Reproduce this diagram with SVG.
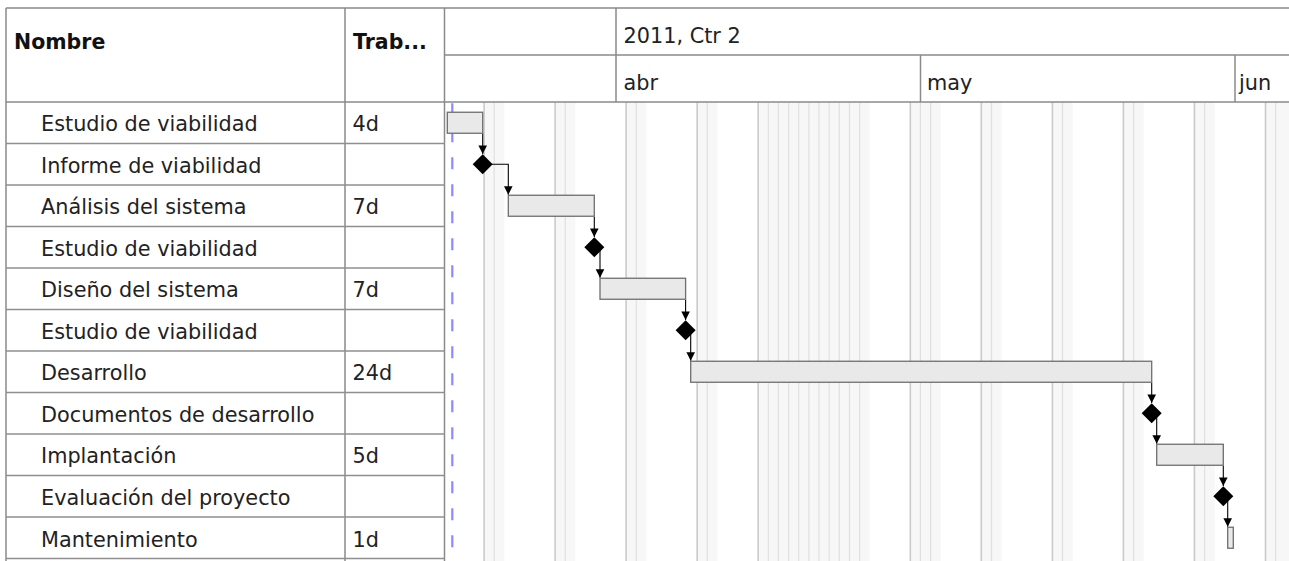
<svg xmlns="http://www.w3.org/2000/svg" width="1289" height="561" viewBox="0 0 1289 561">
<style>
.t{font-family:"DejaVu Sans","Liberation Sans",sans-serif;font-size:20.8px;fill:#222}
.h{font-weight:bold;fill:#111;font-size:20.5px}
.grid{stroke:#8a8a8a;stroke-width:1.5;fill:none}
.rowl{stroke:#8f8f8f;stroke-width:1.3}
.band{fill:#f7f7f7}
.nwd{stroke:#cacaca;stroke-width:1.6}
.nwl{stroke:#e0e0e0;stroke-width:1.2}
.bar{fill:#e9e9e9;stroke:#6e6e6e;stroke-width:1.3}
.ms{fill:#000}
.con{stroke:#000;stroke-width:1.1;fill:none;marker-end:url(#ah)}
</style>
<defs>
<marker id="ah" markerUnits="userSpaceOnUse" markerWidth="10" markerHeight="10" viewBox="0 -5 10 10" refX="8.5" refY="0" orient="auto">
<path d="M0,-4.3 L8.5,0 L0,4.3 z" fill="#000"/>
</marker>
</defs>
<rect x="0" y="0" width="1289" height="561" fill="#fff"/>

<!-- non-working day bands -->
<g id="calendar">
<rect class="band" x="484.1" y="102" width="20.3" height="459"/>
<rect class="band" x="555.1" y="102" width="20.3" height="459"/>
<rect class="band" x="626.1" y="102" width="20.3" height="459"/>
<rect class="band" x="697.2" y="102" width="20.3" height="459"/>
<rect class="band" x="758.1" y="102" width="111.6" height="459"/>
<rect class="band" x="910.3" y="102" width="30.4" height="459"/>
<rect class="band" x="981.3" y="102" width="20.3" height="459"/>
<rect class="band" x="1052.4" y="102" width="20.3" height="459"/>
<rect class="band" x="1123.4" y="102" width="20.3" height="459"/>
<rect class="band" x="1194.4" y="102" width="20.3" height="459"/>
<rect class="band" x="1265.5" y="102" width="23.5" height="459"/>
<g class="nwd">
<line x1="484.1" y1="102" x2="484.1" y2="561"/>
<line x1="555.1" y1="102" x2="555.1" y2="561"/>
<line x1="626.1" y1="102" x2="626.1" y2="561"/>
<line x1="697.2" y1="102" x2="697.2" y2="561"/>
<line x1="758.1" y1="102" x2="758.1" y2="561"/>
<line x1="910.3" y1="102" x2="910.3" y2="561"/>
<line x1="981.3" y1="102" x2="981.3" y2="561"/>
<line x1="1052.4" y1="102" x2="1052.4" y2="561"/>
<line x1="1123.4" y1="102" x2="1123.4" y2="561"/>
<line x1="1194.4" y1="102" x2="1194.4" y2="561"/>
<line x1="1265.5" y1="102" x2="1265.5" y2="561"/>
</g>
<g class="nwl">
<line x1="494.2" y1="102" x2="494.2" y2="561"/>
<line x1="565.3" y1="102" x2="565.3" y2="561"/>
<line x1="636.3" y1="102" x2="636.3" y2="561"/>
<line x1="707.3" y1="102" x2="707.3" y2="561"/>
<line x1="768.3" y1="102" x2="768.3" y2="561"/>
<line x1="778.4" y1="102" x2="778.4" y2="561"/>
<line x1="788.6" y1="102" x2="788.6" y2="561"/>
<line x1="798.7" y1="102" x2="798.7" y2="561"/>
<line x1="808.9" y1="102" x2="808.9" y2="561"/>
<line x1="819.0" y1="102" x2="819.0" y2="561"/>
<line x1="829.2" y1="102" x2="829.2" y2="561"/>
<line x1="839.3" y1="102" x2="839.3" y2="561"/>
<line x1="849.5" y1="102" x2="849.5" y2="561"/>
<line x1="859.6" y1="102" x2="859.6" y2="561"/>
<line x1="920.4" y1="102" x2="920.4" y2="561"/>
<line x1="930.6" y1="102" x2="930.6" y2="561"/>
<line x1="991.5" y1="102" x2="991.5" y2="561"/>
<line x1="1062.5" y1="102" x2="1062.5" y2="561"/>
<line x1="1133.6" y1="102" x2="1133.6" y2="561"/>
<line x1="1204.6" y1="102" x2="1204.6" y2="561"/>
<line x1="1275.6" y1="102" x2="1275.6" y2="561"/>
</g>
</g>

<!-- today line -->
<line id="today" x1="452.3" y1="103.3" x2="452.3" y2="561" stroke="#8b8bff" stroke-width="2.2" stroke-dasharray="12 15"/>

<!-- table and header grid -->
<g id="grid">
<line class="grid" x1="6" y1="8" x2="1289" y2="8"/>
<line class="grid" x1="6" y1="102" x2="1289" y2="102"/>
<line class="grid" x1="444.5" y1="55" x2="1289" y2="55"/>
<line class="grid" x1="6" y1="8" x2="6" y2="561"/>
<line class="grid" x1="345" y1="8" x2="345" y2="561"/>
<line class="grid" x1="444.5" y1="8" x2="444.5" y2="561"/>
<line class="grid" x1="616" y1="8" x2="616" y2="102" stroke="#666"/>
<line class="grid" x1="920.5" y1="55" x2="920.5" y2="102" stroke="#666"/>
<line class="grid" x1="1235" y1="55" x2="1235" y2="102" stroke="#999"/>
<g class="rowl">
<line x1="6" y1="143.5" x2="444.5" y2="143.5"/>
<line x1="6" y1="185" x2="444.5" y2="185"/>
<line x1="6" y1="226.5" x2="444.5" y2="226.5"/>
<line x1="6" y1="268" x2="444.5" y2="268"/>
<line x1="6" y1="309.5" x2="444.5" y2="309.5"/>
<line x1="6" y1="351" x2="444.5" y2="351"/>
<line x1="6" y1="392.5" x2="444.5" y2="392.5"/>
<line x1="6" y1="434" x2="444.5" y2="434"/>
<line x1="6" y1="475.5" x2="444.5" y2="475.5"/>
<line x1="6" y1="517" x2="444.5" y2="517"/>
<line x1="6" y1="558.5" x2="444.5" y2="558.5"/>
</g>
</g>

<!-- header texts -->
<g id="header">
<text class="t h" x="14" y="49.3">Nombre</text>
<text class="t h" x="353" y="49.3">Trab...</text>
<text class="t" x="623.5" y="43.3">2011, Ctr 2</text>
<text class="t" x="623.5" y="90">abr</text>
<text class="t" x="927" y="90">may</text>
<text class="t" x="1239" y="90">jun</text>
</g>

<!-- connectors -->
<g id="connectors">
<path class="con" d="M482.7,133.5 V153.9"/>
<path class="con" d="M482.7,164.25 H508.3 V194.8"/>
<path class="con" d="M594.3,216.8 V236.9"/>
<path class="con" d="M600,247.25 V277.8"/>
<path class="con" d="M685.6,299.8 V319.9"/>
<path class="con" d="M690.7,330.25 V360.8"/>
<path class="con" d="M1151.7,382.8 V402.9"/>
<path class="con" d="M1156.7,413.25 V443.8"/>
<path class="con" d="M1223.3,465.8 V485.9"/>
<path class="con" d="M1227.7,496.25 V526.8"/>
</g>

<!-- tasks -->
<g id="task1">
<text class="t" x="41" y="131.2">Estudio de viabilidad</text>
<text class="t" x="352.5" y="131.2">4d</text>
<rect class="bar" x="447.3" y="112.25" width="35.4" height="21"/>
</g>
<g id="task2">
<text class="t" x="41" y="172.7">Informe de viabilidad</text>
<polygon class="ms" points="482.7,154.25 492.7,164.25 482.7,174.25 472.7,164.25"/>
</g>
<g id="task3">
<text class="t" x="41" y="214.2">Análisis del sistema</text>
<text class="t" x="352.5" y="214.2">7d</text>
<rect class="bar" x="508.3" y="195.25" width="86" height="21"/>
</g>
<g id="task4">
<text class="t" x="41" y="255.7">Estudio de viabilidad</text>
<polygon class="ms" points="594.3,237.25 604.3,247.25 594.3,257.25 584.3,247.25"/>
</g>
<g id="task5">
<text class="t" x="41" y="297.2">Diseño del sistema</text>
<text class="t" x="352.5" y="297.2">7d</text>
<rect class="bar" x="600" y="278.25" width="85.6" height="21"/>
</g>
<g id="task6">
<text class="t" x="41" y="338.7">Estudio de viabilidad</text>
<polygon class="ms" points="685.6,320.25 695.6,330.25 685.6,340.25 675.6,330.25"/>
</g>
<g id="task7">
<text class="t" x="41" y="380.4">Desarrollo</text>
<text class="t" x="352.5" y="380.4">24d</text>
<rect class="bar" x="690.7" y="361.25" width="461" height="21"/>
</g>
<g id="task8">
<text class="t" x="41" y="421.9">Documentos de desarrollo</text>
<polygon class="ms" points="1151.7,403.25 1161.7,413.25 1151.7,423.25 1141.7,413.25"/>
</g>
<g id="task9">
<text class="t" x="41" y="463.4">Implantación</text>
<text class="t" x="352.5" y="463.4">5d</text>
<rect class="bar" x="1156.7" y="444.25" width="66.6" height="21"/>
</g>
<g id="task10">
<text class="t" x="41" y="504.9">Evaluación del proyecto</text>
<polygon class="ms" points="1223.3,486.25 1233.3,496.25 1223.3,506.25 1213.3,496.25"/>
</g>
<g id="task11">
<text class="t" x="41" y="546.6">Mantenimiento</text>
<text class="t" x="352.5" y="546.6">1d</text>
<rect class="bar" x="1227.7" y="527.25" width="5.6" height="21"/>
</g>
</svg>
